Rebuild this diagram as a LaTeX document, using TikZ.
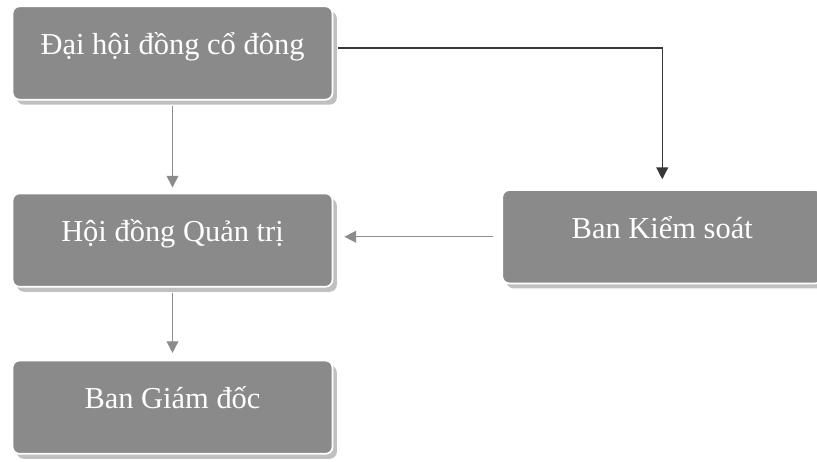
\documentclass[tikz,border=0pt]{standalone}
\usepackage{fontspec}
\setmainfont{Liberation Serif}
\usetikzlibrary{arrows.meta, positioning, shadows}

\definecolor{boxgray}{RGB}{138,138,138}
\definecolor{shadowgray}{RGB}{192,192,192}
\definecolor{linegray}{RGB}{140,140,140}
\definecolor{linedark}{RGB}{55,55,55}

\begin{document}
\begin{tikzpicture}[
    font=\fontsize{26}{30}\selectfont,
    box/.style={draw=white, line width=1.5pt, rounded corners=6pt, fill=boxgray, text=white,
        minimum width=9.6cm, minimum height=2.8cm, text height=0.55cm, text depth=0.45cm,
        drop shadow={shadow xshift=0.13cm, shadow yshift=-0.15cm, fill=shadowgray, opacity=1}},
    link/.style={draw=linegray, line width=1.2pt, -{Triangle[length=10pt, width=10pt]}},
    darklink/.style={link, draw=linedark}
]
    \useasboundingbox (0,0) rectangle (24.51,-13.86);

    % Components
    \node[box] (dhdcd) at (5.175,-1.59) {Đại hội đồng cổ đông};
    \node[box, below=2.76cm of dhdcd] (hdqt) {Hội đồng Quản trị};
    \node[box, below=2.16cm of hdqt] (bgd) {Ban Giám đốc};
    \node[box, right=5.04cm of hdqt, yshift=0.1cm] (bks) {Ban Kiểm soát};

    % Connections
    \draw[link, shorten <=0.15cm, shorten >=0.15cm] (dhdcd.south) -- (hdqt.north);
    \draw[link, shorten <=0.15cm, shorten >=0.2cm] (hdqt.south) -- (bgd.north);
    \draw[darklink, shorten <=0.15cm, shorten >=0.3cm] ([yshift=0.15cm]dhdcd.east) -| (bks.north);
    \draw[link, shorten <=0.25cm, shorten >=0.33cm] (bks.west) -- (bks.west -| hdqt.east);

\end{tikzpicture}
\end{document}
